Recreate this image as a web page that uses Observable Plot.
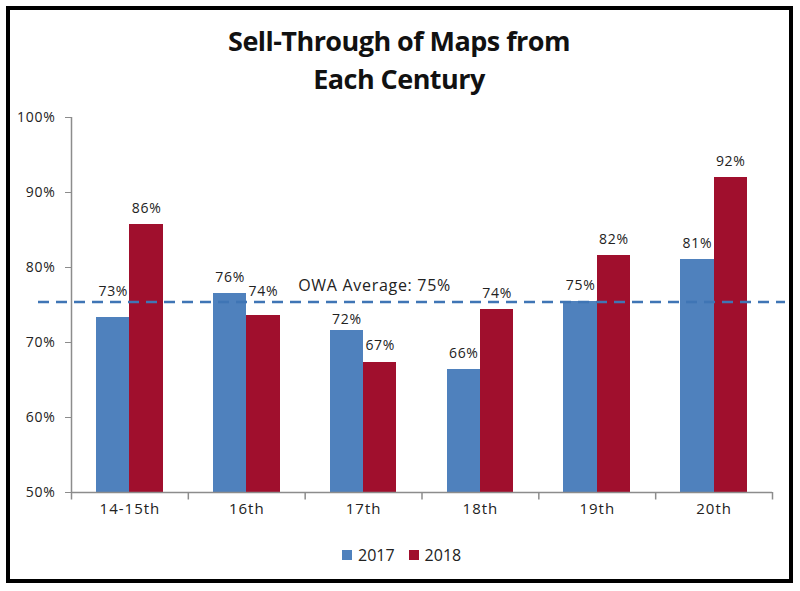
<!DOCTYPE html>
<html>
<head>
<meta charset="utf-8">
<script src="https://cdn.jsdelivr.net/npm/d3@7"></script>
<script src="https://cdn.jsdelivr.net/npm/@observablehq/plot@0.6"></script>
<style>
  html, body { margin: 0; background: #fff; }
  #frame {
    position: absolute; left: 6px; top: 6px; width: 787px; height: 577px;
    box-sizing: border-box; border: 4px solid #000;
  }
  #title {
    position: absolute; left: 0; top: 22px; width: 798px; text-align: center;
    font: bold 27px/38px "Open Sans", sans-serif; color: #111; letter-spacing: -0.55px;
  }
  #chart { position: absolute; left: 0; top: 100px; }
  #legend {
    position: absolute; left: 342px; top: 544px;
    font: 16px "Open Sans", sans-serif; color: #222; display: flex; align-items: center;
  }
  #legend i { display: inline-block; width: 10px; height: 10px; margin-right: 6px; }
  #legend span { margin-right: 14px; }
  #chart svg g[aria-label="y-axis tick label"] text,
  #chart svg g[aria-label="text"] text { letter-spacing: 0.7px; }
  #chart svg g[aria-label="x-axis tick label"] text { letter-spacing: 1px; }
  #chart svg g[aria-label="x-axis tick label"] { font-size: 15px; }
</style>
</head>
<body>
<div id="frame"></div>
<div id="title">Sell-Through of Maps from<br>Each Century</div>
<div id="chart"></div>
<div id="legend"></div>
<script>
const categories = ["14-15th", "16th", "17th", "18th", "19th", "20th"]
const values2017 = [73.4, 76.5, 71.6, 66.4, 75.5, 81.1]
const values2018 = [85.7, 73.6, 67.4, 74.4, 81.6, 92.0]
const labels2017 = ["73%", "76%", "72%", "66%", "75%", "81%"]
const labels2018 = ["86%", "74%", "67%", "74%", "82%", "92%"]
const yTicks = [50, 60, 70, 80, 90, 100]
const average = 75.4
const blue = "#4f81bd"
const red = "#a00f2d"
const axisGray = "#8c8c8c"

const table = (vals, labs) => categories.map((c, i) => ({cat: c, value: vals[i], label: labs[i]}))
const data2017 = table(values2017, labels2017)
const data2018 = table(values2018, labels2018)

const step = 701 / 6
const barW = 33.3
const side = (step - 2 * barW) / 2

// labels that sit off their normal spot in the original, to clear the average line
const raised2017 = ["14-15th"]
const lowered2017 = ["17th"]
const raised2018 = ["16th"]
const inList = (list) => (d) => list.includes(d.cat)
const notIn = (...lists) => (d) => !lists.flat().includes(d.cat)
const labelText = {x: "cat", y: "value", text: "label", fill: "#222", fontSize: 14}

let chart = Plot.plot({
  width: 800,
  height: 430,
  marginTop: 17,
  marginBottom: 38,
  marginLeft: 71,
  marginRight: 28,
  style: {background: "transparent", fontFamily: "'Open Sans', sans-serif", fontSize: "14px", color: "#222"},
  x: {domain: categories, padding: 0, round: false, label: null},
  y: {domain: [50, 100], label: null},
  marks: [
    Plot.barY(data2017, {x: "cat", y1: 50, y2: "value", fill: blue, insetLeft: side, insetRight: side + barW, shapeRendering: "crispEdges"}),
    Plot.barY(data2018, {x: "cat", y1: 50, y2: "value", fill: red, insetLeft: side + barW, insetRight: side, shapeRendering: "crispEdges"}),
    Plot.ruleY([50], {stroke: axisGray, strokeWidth: 1.5}),
    Plot.ruleX(categories.slice(0, 1), {x: d => d, y1: 50, y2: 100, dx: -step / 2, stroke: axisGray, strokeWidth: 1.5}),
    Plot.ruleX(categories, {x: d => d, y1: 50, y2: 49, dx: -step / 2, stroke: axisGray, strokeWidth: 1.5}),
    Plot.ruleX(categories.slice(-1), {x: d => d, y1: 50, y2: 49, dx: step / 2, stroke: axisGray, strokeWidth: 1.5}),
    Plot.ruleY([average], {stroke: "#3f75b5", strokeWidth: 2.5, strokeDasharray: "11 7", insetLeft: -33, insetRight: -13}),
    Plot.text(data2017, {...labelText, filter: notIn(raised2017, lowered2017), dx: -barW / 2, dy: -16}),
    Plot.text(data2017, {...labelText, filter: inList(raised2017), dx: -barW / 2, dy: -25}),
    Plot.text(data2017, {...labelText, filter: inList(lowered2017), dx: -barW / 2, dy: -11}),
    Plot.text(data2018, {...labelText, filter: notIn(raised2018), dx: barW / 2, dy: -16}),
    Plot.text(data2018, {...labelText, filter: inList(raised2018), dx: barW / 2, dy: -24}),
    Plot.text(["OWA Average: 75%"], {x: () => categories[2], y: () => average, dx: 11, dy: -16, fontSize: 16, fill: "#222"}),
    Plot.axisY({ticks: yTicks, tickFormat: d => d + "%", tickSize: 6, tickPadding: 10, stroke: axisGray, fill: "#222"}),
    Plot.axisX({tickSize: 0, tickPadding: 11, fill: "#222"})
  ]
})
d3.select("#chart").append(() => chart)

const legend = d3.select("#legend")
;[["2017", blue], ["2018", red]].forEach(([name, color]) => {
  legend.append("i").style("background", color)
  legend.append("span").text(name)
})
</script>
</body>
</html>
